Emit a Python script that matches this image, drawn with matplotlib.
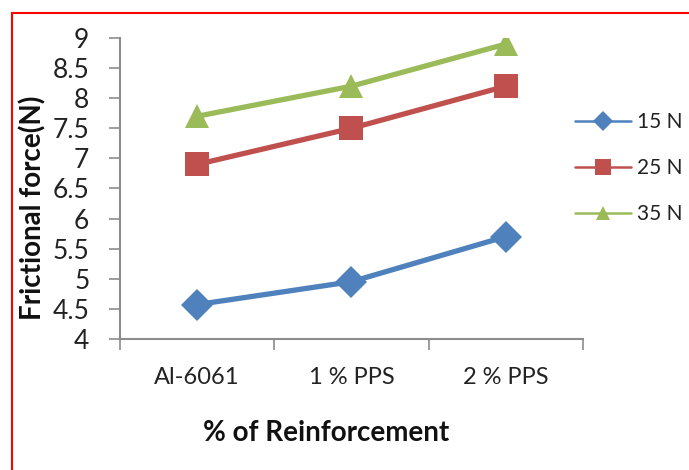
import matplotlib
matplotlib.use("Agg")
import matplotlib.pyplot as plt
from matplotlib.patches import Rectangle

categories = ["Al-6061", "1 % PPS", "2 % PPS"]
series_names = ["15 N", "25 N", "35 N"]
s15 = [4.57, 4.95, 5.7]
s25 = [6.9, 7.5, 8.2]
s35 = [7.7, 8.2, 8.9]
yticks = [4, 4.5, 5, 5.5, 6, 6.5, 7, 7.5, 8, 8.5, 9]
ytick_labels = ["4", "4.5", "5", "5.5", "6", "6.5", "7", "7.5", "8", "8.5", "9"]

plt.rcParams['font.family'] = ['Lato', 'DejaVu Sans']

fig = plt.figure(figsize=(6.89, 4.70), dpi=100)
fig.patch.set_facecolor('white')
ax = fig.add_axes([0.174, 0.279, 0.672, 0.640])

x = list(range(len(categories)))
styles = [
    (s15, '#4F81BD', 'D', 16),
    (s25, '#C0504D', 's', 17),
    (s35, '#9BBB59', '^', 17),
]
for (vals, col, mk, ms), name in zip(styles, series_names):
    ax.plot(x, vals, color=col, lw=3.8, marker=mk, markersize=ms,
            markeredgewidth=0, label=name, solid_capstyle='round')

ax.set_xlim(-0.5, 2.5)
ax.set_ylim(4, 9)
ax.set_yticks(yticks)
ax.set_yticklabels(ytick_labels)
ax.set_xticks([-0.5, 0.5, 1.5, 2.5])
ax.set_xticklabels([])
ax.set_xticks(x, minor=True)
ax.set_xticklabels(categories, minor=True)
ax.tick_params(axis='x', which='minor', length=0, pad=20, labelsize=17, labelcolor='#222222')
ax.tick_params(axis='x', which='major', length=8, width=1.2, color='#8c8c8c', direction='out')
ax.tick_params(axis='y', length=8, width=1.2, color='#8c8c8c', direction='out', labelsize=19,
               labelcolor='#222222', pad=14)

for s in ['top', 'right']:
    ax.spines[s].set_visible(False)
for s in ['left', 'bottom']:
    ax.spines[s].set_color('#8c8c8c')
    ax.spines[s].set_linewidth(1.5)

handles, labels = ax.get_legend_handles_labels()
leg = fig.legend(handles, labels, loc='center left', bbox_to_anchor=(0.8345, 0.6426),
                 frameon=False, fontsize=15, handlelength=2.7, handletextpad=0.3,
                 labelspacing=1.25, borderpad=0, borderaxespad=0)
leg_ms = [10, 11, 10]
for line, ms in zip(leg.get_lines(), leg_ms):
    line.set_linewidth(1.8)
    line.set_markersize(ms)
for t in leg.get_texts():
    t.set_color('#222222')

fig.text(0.047, 0.558, "Frictional force(N)", rotation=90, fontsize=20, fontweight='bold',
         ha='center', va='center', color='#111111')
fig.text(0.474, 0.079, "% of Reinforcement", fontsize=20, fontweight='bold',
         ha='center', va='center', color='#111111')

fig.patches.append(Rectangle((0.017, -0.5), 2.0, 1.472, transform=fig.transFigure,
                             fill=False, edgecolor='#ff0000', linewidth=1.5))

fig.savefig("out.png", dpi=100, facecolor='white')
